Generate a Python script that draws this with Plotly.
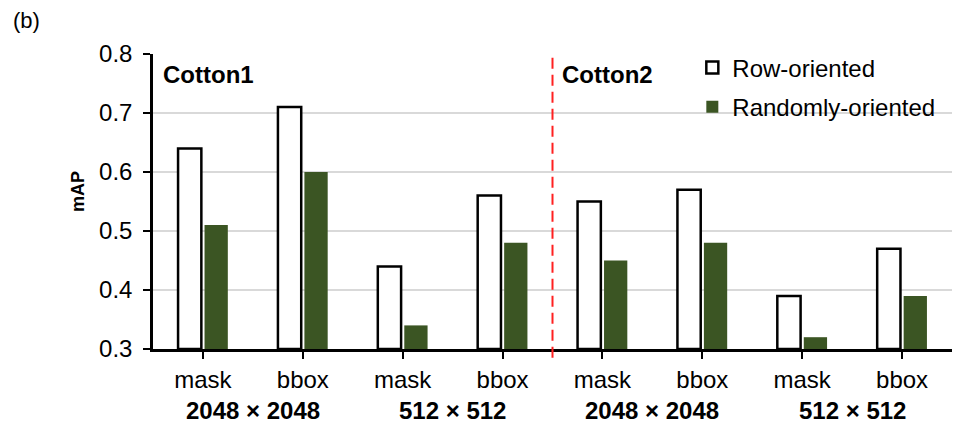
import plotly.graph_objects as go

# Category labels along the x axis (two resolutions x two outputs, per cotton set)
outputs = ["mask", "bbox", "mask", "bbox", "mask", "bbox", "mask", "bbox"]
resolutions = ["2048 × 2048", "512 × 512", "2048 × 2048", "512 × 512"]
datasets = ["Cotton1", "Cotton2"]

# mAP values
row_oriented = [0.64, 0.71, 0.44, 0.56, 0.55, 0.57, 0.39, 0.47]
randomly_oriented = [0.51, 0.60, 0.34, 0.48, 0.45, 0.48, 0.32, 0.39]

y_ticks = [0.3, 0.4, 0.5, 0.6, 0.7, 0.8]
Y_MIN = y_ticks[0]

FONT = "Liberation Sans, Arial, sans-serif"
GREEN = "#3B5523"

x = list(range(len(outputs)))

fig = go.Figure()
fig.add_trace(go.Bar(
    x=x, y=[v - Y_MIN for v in row_oriented], base=Y_MIN,
    name="Row-oriented", legend="legend",
    marker=dict(color="white", line=dict(color="black", width=2.5)),
))
fig.add_trace(go.Bar(
    x=x, y=[v - Y_MIN for v in randomly_oriented], base=Y_MIN,
    name="Randomly-oriented", legend="legend2",
    marker=dict(color=GREEN, line=dict(color=GREEN, width=0)),
))

annotations = []
# Resolution labels under the tick labels
for i, res in enumerate(resolutions):
    annotations.append(dict(
        x=2 * i + 0.5, xref="x", y=-0.207, yref="paper",
        text=f"<b>{res}</b>", showarrow=False,
        font=dict(family=FONT, size=24, color="black"),
        xanchor="center", yanchor="middle",
    ))
# Dataset labels inside the plot
for i, name in enumerate(datasets):
    annotations.append(dict(
        x=4 * i - 0.42, xref="x", y=0.765, yref="y",
        text=f"<b>{name}</b>", showarrow=False,
        font=dict(family=FONT, size=24, color="black"),
        xanchor="left", yanchor="middle",
    ))
# Y-axis title
annotations.append(dict(
    x=-0.094, xref="paper", y=0.535, yref="paper",
    text="<b>mAP</b>", showarrow=False, textangle=-90,
    font=dict(family=FONT, size=18, color="black"),
    xanchor="center", yanchor="middle",
))
# Panel tag
annotations.append(dict(
    x=-0.178, xref="paper", y=1.115, yref="paper",
    text="(b)", showarrow=False,
    font=dict(family=FONT, size=22, color="black"),
    xanchor="left", yanchor="middle",
))

legend_style = dict(
    xanchor="left", yanchor="middle",
    bgcolor="rgba(0,0,0,0)", font=dict(family=FONT, size=24, color="black"),
    itemwidth=30,
)

fig.update_layout(
    width=955, height=433,
    margin=dict(l=153, r=3, t=54, b=84),
    paper_bgcolor="white", plot_bgcolor="white",
    font=dict(family=FONT, size=20, color="black"),
    barmode="group", bargap=0.47, bargroupgap=0.12,
    showlegend=True,
    legend=dict(x=0.675, y=0.953, **legend_style),
    legend2=dict(x=0.675, y=0.82, **legend_style),
    annotations=annotations,
    shapes=[dict(
        type="line", xref="x", yref="paper",
        x0=3.5, x1=3.5, y0=-0.03, y1=1.0,
        line=dict(color="#FF2020", width=2, dash="11px,6px"),
    )],
)

fig.update_xaxes(
    range=[-0.5, 7.5],
    tickmode="array", tickvals=x, ticktext=outputs,
    ticks="outside", ticklen=7, tickwidth=2, tickcolor="black",
    showline=True, linecolor="black", linewidth=2.5,
    showgrid=False, zeroline=False,
    tickfont=dict(family=FONT, size=24),
)
fig.update_yaxes(
    range=[Y_MIN, 0.8],
    tickmode="array", tickvals=y_ticks, ticktext=[f"{v:.1f}" for v in y_ticks],
    ticks="outside", ticklen=7, tickwidth=2, tickcolor="black",
    ticklabelstandoff=6,
    showline=True, linecolor="black", linewidth=2.5,
    showgrid=True, gridcolor="#D9D9D9", gridwidth=1.5,
    zeroline=False,
    tickfont=dict(family=FONT, size=24),
)

fig.write_html("out.html")
